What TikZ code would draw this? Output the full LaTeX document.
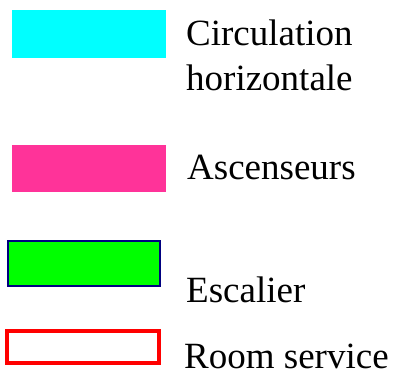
\documentclass[tikz,border=0pt]{standalone}
\usepackage{fontspec}
\setmainfont{Liberation Serif}
\usetikzlibrary{positioning}
\definecolor{circcyan}{RGB}{0,255,255}
\definecolor{ascpink}{RGB}{255,51,153}
\definecolor{escgreen}{RGB}{0,255,0}
\definecolor{escnavy}{RGB}{0,0,128}
\definecolor{roomred}{RGB}{255,0,0}

\begin{document}
\begin{tikzpicture}[x=1pt, y=-1pt,
    lbl/.style={anchor=base west, inner sep=0pt, font=\fontsize{37}{45}\selectfont}]
   \useasboundingbox (0,0) rectangle (396,378);
   % colour samples
   \fill[circcyan] (12,10) rectangle (166,58);
   \fill[ascpink] (12,145) rectangle (166,192);
   \draw[escnavy, line width=2pt, fill=escgreen] (7.5,240.5) rectangle (159.5,285.5);
   \draw[roomred, line width=4pt] (7,330.5) rectangle (159,362.5);
   % labels
   \node[lbl] (circ) at (186,45) {Circulation};
   \node[lbl] (horiz) at (186,90) {horizontale};
   \node[lbl] (asc) at (187,179) {Ascenseurs};
   \node[lbl] (esc) at (186,302.5) {Escalier};
   \node[lbl] (room) at (184,368) {Room service};
  \end{tikzpicture}
\end{document}
